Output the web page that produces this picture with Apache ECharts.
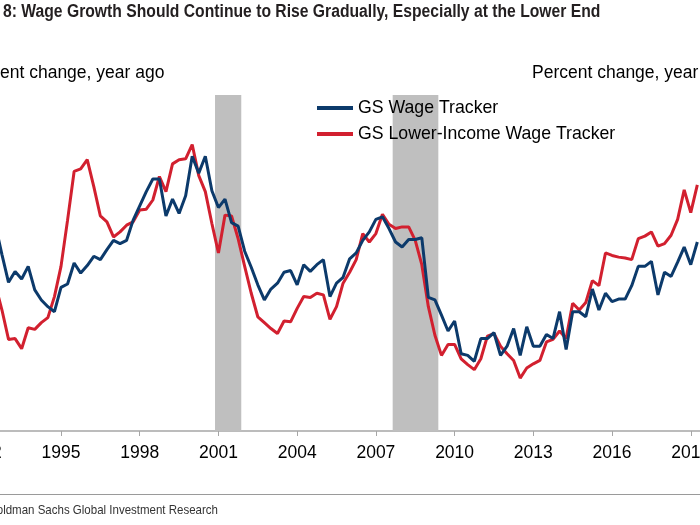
<!DOCTYPE html>
<html>
<head>
<meta charset="utf-8">
<script src="https://cdn.jsdelivr.net/npm/echarts@6/dist/echarts.min.js"></script>
<style>
html,body{margin:0;padding:0;overflow:hidden;width:700px;height:525px;background:#fff;}
#chart{position:absolute;left:-100px;top:0;width:900px;height:525px;}
</style>
</head>
<body>
<div id="chart"></div>
<script>
// Quarterly observations, first quarter = 1992 Q3 (1992.5), step 0.25 year
var startYear = 1992.5;
var wageTracker = [
  3.45, 3.10,
  2.77, 2.90, 2.81, 2.96,
  2.68, 2.56, 2.48, 2.42,
  2.71, 2.75, 3.00, 2.88,
  2.97, 3.08, 3.04, 3.16,
  3.27, 3.23, 3.27, 3.51,
  3.68, 3.85, 4.00, 4.00,
  3.56, 3.76, 3.59, 3.80,
  4.27, 4.07, 4.27, 3.86,
  3.66, 3.76, 3.48, 3.44,
  3.14, 2.95, 2.74, 2.56,
  2.69, 2.76, 2.89, 2.91,
  2.74, 2.98, 2.90, 2.98,
  3.04, 2.60, 2.76, 2.83,
  3.05, 3.12, 3.27, 3.37,
  3.52, 3.55, 3.41, 3.25,
  3.19, 3.28, 3.28, 3.30,
  2.59, 2.56, 2.38, 2.19,
  2.31, 1.92, 1.90, 1.83,
  2.10, 2.10, 2.17, 1.90,
  2.01, 2.22, 1.90, 2.24,
  2.01, 2.01, 2.15, 2.10,
  2.42, 1.97, 2.42, 2.42,
  2.36, 2.69, 2.44, 2.64,
  2.54, 2.57, 2.57, 2.73,
  2.96, 2.96, 3.02, 2.62,
  2.89, 2.84, 3.01, 3.19,
  2.98, 3.25
];
var lowerIncomeTracker = [
  2.74, 2.44,
  2.09, 2.10, 1.98, 2.23,
  2.21, 2.29, 2.35, 2.60,
  2.96, 3.51, 4.09, 4.12,
  4.23, 3.91, 3.56, 3.49,
  3.31, 3.37, 3.45, 3.49,
  3.63, 3.64, 3.75, 4.03,
  3.85, 4.18, 4.23, 4.24,
  4.41, 4.04, 3.85, 3.47,
  3.12, 3.57, 3.56, 3.29,
  2.96, 2.64, 2.36, 2.29,
  2.22, 2.16, 2.31, 2.30,
  2.46, 2.60, 2.59, 2.64,
  2.62, 2.33, 2.48, 2.76,
  2.89, 3.04, 3.35, 3.25,
  3.35, 3.58, 3.46, 3.41,
  3.43, 3.43, 3.27, 2.98,
  2.48, 2.14, 1.90, 2.03,
  2.03, 1.86, 1.79, 1.73,
  1.86, 2.13, 2.16, 2.01,
  1.92, 1.84, 1.63, 1.75,
  1.80, 1.84, 2.06, 2.09,
  2.19, 2.10, 2.52, 2.44,
  2.53, 2.79, 2.73, 3.12,
  3.09, 3.07, 3.06, 3.04,
  3.29, 3.32, 3.37, 3.20,
  3.23, 3.33, 3.52, 3.87,
  3.60, 3.93
];
var recessions = [[2000.87, 2001.87], [2007.64, 2009.38]];
var seriesNames = ['GS Wage Tracker', 'GS Lower-Income Wage Tracker'];
var titleText = '8: Wage Growth Should Continue to Rise Gradually, Especially at the Lower End';
var axisNameText = 'Percent change, year ago';
var sourceText = 'Source: Goldman Sachs Global Investment Research';

function toPairs(arr){
  return arr.map(function(v,i){ return [startYear + i*0.25, v]; });
}

var chart = echarts.init(document.getElementById('chart'), null, {renderer:'canvas'});
var baseFont = "'Liberation Sans', Arial, sans-serif";

chart.setOption({
  animation:false,
  backgroundColor:'#ffffff',
  grid:{left:82.28, right:83, top:95, bottom:94, containLabel:false},
  xAxis:{
    type:'value', min:1992, max:2020, interval:3,
    axisLine:{show:true, lineStyle:{color:'#a6a6a6', width:1.5}},
    axisTick:{show:true, length:5, lineStyle:{color:'#a6a6a6', width:1}},
    axisLabel:{fontFamily:baseFont, fontSize:17.5, color:'#000', margin:13, showMaxLabel:false,
      formatter:function(v){return String(v);}},
    splitLine:{show:false}
  },
  yAxis:{
    type:'value', min:1, max:5, interval:1,
    axisLine:{show:false}, axisTick:{show:false}, axisLabel:{show:false}, splitLine:{show:false}
  },
  legend:{
    data:seriesNames, orient:'vertical', left:417, top:98, padding:0,
    icon:'rect', itemWidth:36, itemHeight:4, itemGap:6,
    textStyle:{fontFamily:baseFont, fontSize:17.7, color:'#000', lineHeight:20}
  },
  graphic:[
    {type:'text', x:103, y:12, scaleX:0.872,
      style:{text:titleText, font:"bold 18px "+baseFont, fill:'#231f20', align:'left', verticalAlign:'middle'}},
    {type:'text', x:64, y:73,
      style:{text:axisNameText, font:"17.5px "+baseFont, fill:'#000', align:'left', verticalAlign:'middle'}},
    {type:'text', x:632, y:73,
      style:{text:axisNameText, font:"17.5px "+baseFont, fill:'#000', align:'left', verticalAlign:'middle'}},
    {type:'line', shape:{x1:0, y1:494.5, x2:900, y2:494.5}, style:{stroke:'#9a9a9a', lineWidth:1}},
    {type:'text', x:318, y:510, scaleX:0.885,
      style:{text:sourceText, font:"13px "+baseFont, fill:'#333', align:'right', verticalAlign:'middle'}}
  ],
  series:[
    {
      name:'recessions', type:'line', data:[], z:1, silent:true,
      markArea:{silent:true, itemStyle:{color:'#bfbfbf'},
        data:recessions.map(function(r){return [{xAxis:r[0]},{xAxis:r[1]}];})}
    },
    {
      name:seriesNames[0], type:'line', data:toPairs(wageTracker), z:3,
      showSymbol:false, symbol:'none', color:'#0c3a6b',
      lineStyle:{color:'#0c3a6b', width:3}
    },
    {
      name:seriesNames[1], type:'line', data:toPairs(lowerIncomeTracker), z:2,
      showSymbol:false, symbol:'none', color:'#d2202f',
      lineStyle:{color:'#d2202f', width:3}
    }
  ]
});
</script>
</body>
</html>
